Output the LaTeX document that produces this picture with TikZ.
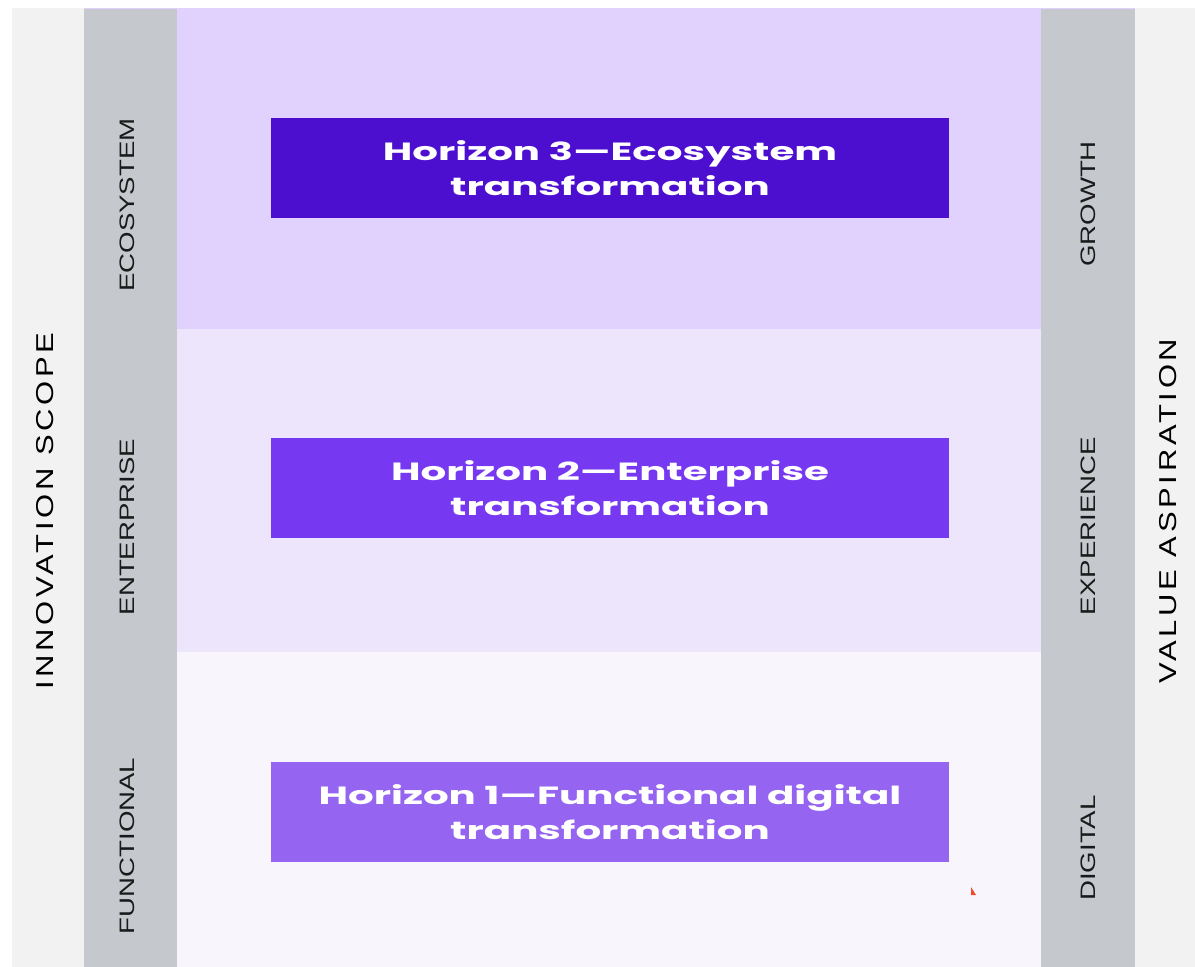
\documentclass[tikz,border=0pt]{standalone}
\usepackage{fontspec}
\newfontfamily\headfont{Poppins}[FakeStretch=1.62]
\newfontfamily\sidefont{Liberation Sans}[FakeStretch=1.32]
\newfontfamily\outerfont{Liberation Sans}[FakeStretch=1.27,LetterSpace=15]
\definecolor{outergrey}{HTML}{F2F2F2}
\definecolor{colgrey}{HTML}{C5C8CD}
\definecolor{bandtop}{HTML}{E1D2FD}
\definecolor{bandmid}{HTML}{EDE5FC}
\definecolor{bandbot}{HTML}{F8F6FC}
\definecolor{hthree}{HTML}{4C0ECF}
\definecolor{htwo}{HTML}{7639F1}
\definecolor{hone}{HTML}{9565F2}
\definecolor{labeltext}{HTML}{1A1A1A}
\definecolor{redmark}{HTML}{F04A2A}
\begin{document}
\begin{tikzpicture}[x=1bp,y=-1bp,
  hbox/.style={minimum width=678bp,minimum height=100bp,inner sep=0pt,align=center,text=white,
    font=\headfont\bfseries\fontsize{25}{35}\selectfont},
  sidelabel/.style={rotate=90,inner sep=0pt,text=labeltext,font=\sidefont\fontsize{21}{21}\selectfont},
  outerlabel/.style={rotate=90,inner sep=0pt,text=black,font=\outerfont\fontsize{24.5}{24.5}\selectfont}]
\useasboundingbox (0,0) rectangle (1195,967);
\fill[white] (0,0) rectangle (1195,967);
\fill[outergrey] (12,8) rectangle (84,967);
\fill[outergrey] (1135,8) rectangle (1195,967);
\fill[bandtop] (84,8) rectangle (1135,329);
\fill[bandmid] (84,329) rectangle (1135,652);
\fill[bandbot] (84,652) rectangle (1135,967);
\fill[colgrey] (84,9) rectangle (177,967);
\fill[colgrey] (1041,9) rectangle (1135,967);
\node[hbox,fill=hthree] (h3) at (610,168) {Horizon 3\textemdash Ecosystem\\transformation};
\node[hbox,fill=htwo] (h2) at (610,488) {Horizon 2\textemdash Enterprise\\transformation};
\node[hbox,fill=hone] (h1) at (610,812) {Horizon 1\textemdash Functional digital\\transformation};
\node[sidelabel] (eco) at (127.5,205) {ECOSYSTEM};
\node[sidelabel] (ent) at (127.5,527) {ENTERPRISE};
\node[sidelabel] (fun) at (127.5,846) {FUNCTIONAL};
\node[sidelabel] (gro) at (1088,204) {GROWTH};
\node[sidelabel] (exp) at (1088,526) {EXPERIENCE};
\node[sidelabel] (dig) at (1088,848) {DIGITAL};
\node[outerlabel] (inn) at (45,511) {INNOVATION SCOPE};
\node[outerlabel] (val) at (1168,511) {VALUE ASPIRATION};
\fill[redmark] (971,887) -- (971,895) -- (976,895) -- cycle;
\end{tikzpicture}
\end{document}
